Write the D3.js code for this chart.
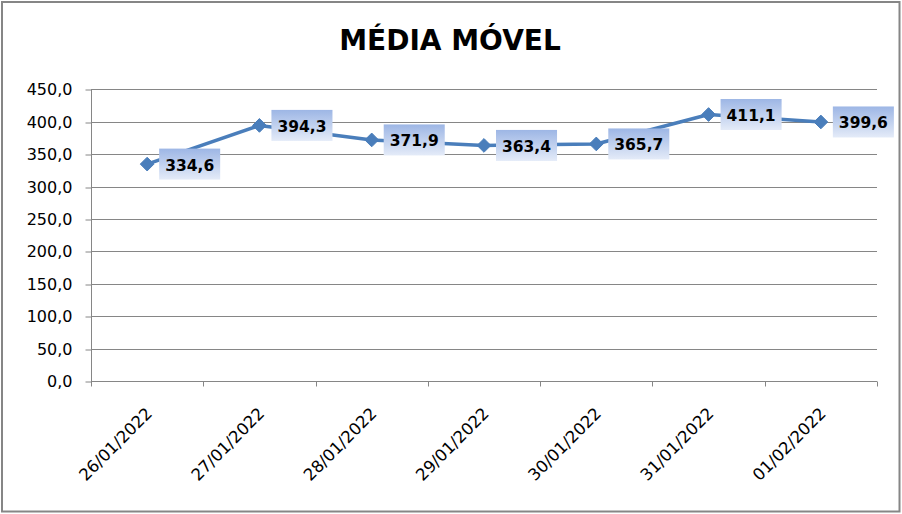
<!DOCTYPE html>
<html>
<head>
<meta charset="utf-8">
<script src="https://cdn.jsdelivr.net/npm/d3@7"></script>
<style>
  html, body { margin: 0; padding: 0; background: #fff; }
  svg { display: block; }
</style>
</head>
<body>
<script>
const title = "MÉDIA MÓVEL";
const categories = ["26/01/2022", "27/01/2022", "28/01/2022", "29/01/2022", "30/01/2022", "31/01/2022", "01/02/2022"];
const values = [334.6, 394.3, 371.9, 363.4, 365.7, 411.1, 399.6];
const yTicks = [0, 50, 100, 150, 200, 250, 300, 350, 400, 450];

const W = 902, H = 514;
const fmt = v => d3.format(".1f")(v).replace(".", ",");

const svg = d3.select("body").append("svg").attr("width", W).attr("height", H);

svg.append("rect").attr("x", 0).attr("y", 0).attr("width", W).attr("height", H).attr("fill", "#fff");
svg.append("rect").attr("x", 2).attr("y", 2).attr("width", 897.5).attr("height", 509.5)
  .attr("fill", "none").attr("stroke", "#868686").attr("stroke-width", 2);

const defs = svg.append("defs");
const grad = defs.append("linearGradient").attr("id", "lblGrad").attr("x1", 0).attr("y1", 0).attr("x2", 0).attr("y2", 1);
grad.append("stop").attr("offset", "0%").attr("stop-color", "#9DB6E5");
grad.append("stop").attr("offset", "100%").attr("stop-color", "#E4EBF8");

const x = d3.scaleBand().domain(categories).range([91, 877]);
const y = d3.scaleLinear().domain([0, 450]).range([381, 89.3]);

// title
svg.append("text").attr("x", 450).attr("y", 50).attr("text-anchor", "middle")
  .attr("font-family", "DejaVu Sans").attr("font-weight", "bold").attr("font-size", 28)
  .attr("fill", "#000").text(title);

// gridlines
svg.append("g").selectAll("line").data(yTicks.filter(d => d > 0)).join("line")
  .attr("x1", 91).attr("x2", 877).attr("y1", d => Math.round(y(d)) + 0.5).attr("y2", d => Math.round(y(d)) + 0.5)
  .attr("stroke", "#868686").attr("stroke-width", 1);

// y axis
const yAxis = d3.axisLeft(y).tickValues(yTicks).tickFormat(fmt).tickSize(6).tickPadding(13);
const gy = svg.append("g").attr("transform", "translate(91.5,0.5)").call(yAxis);
gy.select(".domain").attr("stroke", "#868686").attr("d", `M0,${y(450)}V${y(0)}`);
gy.selectAll(".tick line").attr("stroke", "#868686").attr("transform", d => `translate(0,${Math.round(y(d)) - y(d)})`);
gy.selectAll(".tick text").attr("font-family", "DejaVu Sans").attr("font-size", 16).attr("fill", "#000");

// x axis
const gx = svg.append("g").attr("transform", `translate(0,${Math.round(y(0)) + 0.5})`);
gx.append("line").attr("x1", 91).attr("x2", 877).attr("stroke", "#868686");
const edges = categories.map(c => x(c)).concat([x.range()[1]]);
gx.selectAll("line.tk").data(edges).join("line").attr("class", "tk")
  .attr("x1", d => Math.round(d) + 0.5).attr("x2", d => Math.round(d) + 0.5).attr("y1", 0).attr("y2", 5)
  .attr("stroke", "#868686");
gx.selectAll("text").data(categories).join("text")
  .attr("transform", d => `translate(${x(d) + x.bandwidth() / 2 + 6},${33}) rotate(-45)`)
  .attr("text-anchor", "end").attr("font-family", "DejaVu Sans").attr("font-size", 16.5).attr("fill", "#000")
  .text(d => d);

// line
const cx = (d, i) => x(categories[i]) + x.bandwidth() / 2;
const line = d3.line().x((d, i) => cx(d, i)).y(d => y(d));
svg.append("path").datum(values).attr("d", line).attr("fill", "none")
  .attr("stroke", "#4A7EBB").attr("stroke-width", 3.5).attr("stroke-linejoin", "round");

// markers
svg.append("g").selectAll("path").data(values).join("path")
  .attr("d", d3.symbol().type(d3.symbolDiamond2).size(120))
  .attr("transform", (d, i) => `translate(${cx(d, i)},${y(d)})`)
  .attr("fill", "#4A7EBB").attr("stroke", "#4A7EBB").attr("stroke-width", 1);

// data labels
const lg = svg.append("g").selectAll("g").data(values).join("g")
  .attr("transform", (d, i) => `translate(${cx(d, i) + 12},${y(d)})`);
const rects = lg.append("rect").attr("fill", "url(#lblGrad)");
const texts = lg.append("text").attr("font-family", "DejaVu Sans").attr("font-weight", "bold")
  .attr("font-size", 15.5).attr("fill", "#000").attr("y", 6.5).text(d => fmt(d));
texts.each(function () {
  const w = this.getComputedTextLength();
  const bw = Math.max(60, w + 12);
  d3.select(this).attr("x", bw / 2).attr("text-anchor", "middle");
  d3.select(this.parentNode).select("rect").attr("x", 0).attr("y", -15.5).attr("width", bw).attr("height", 31);
});
</script>
</body>
</html>
